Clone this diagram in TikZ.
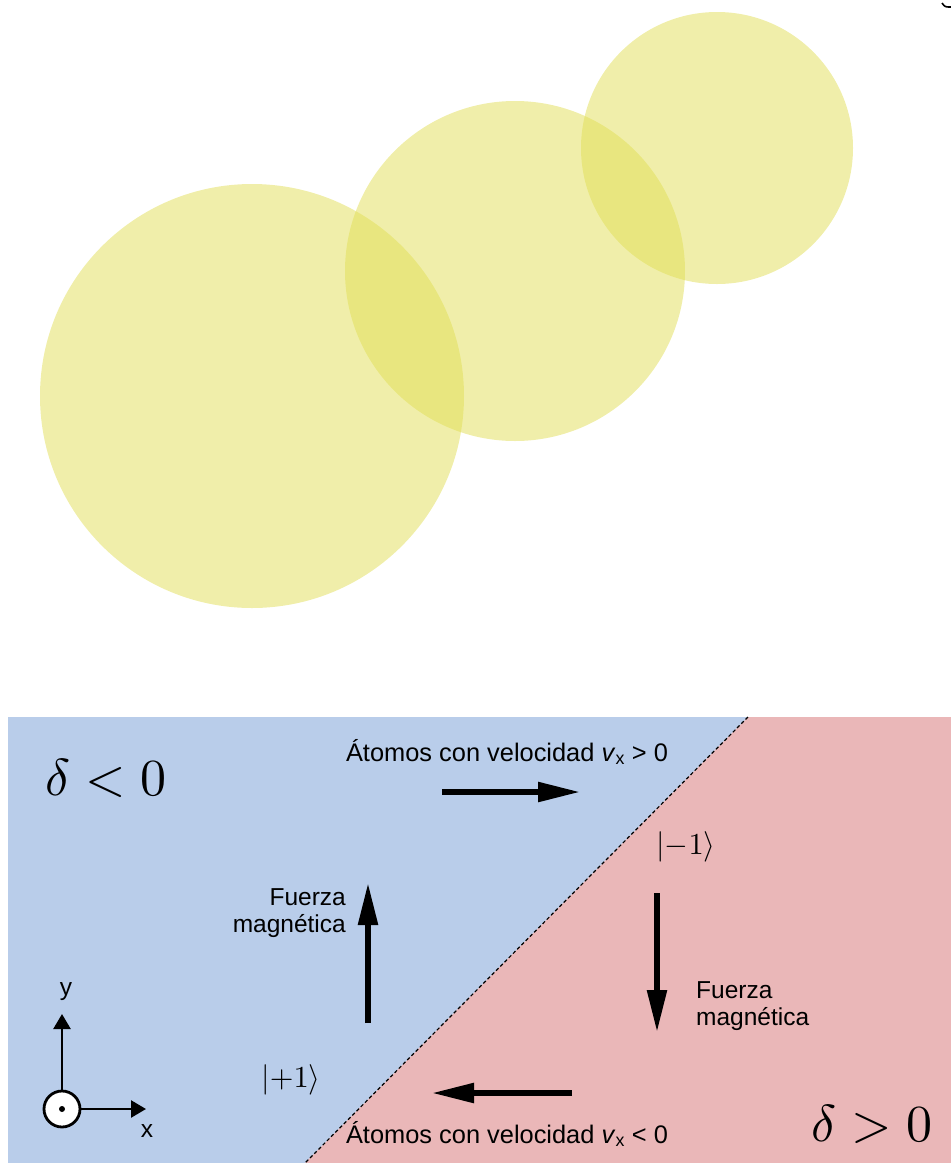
\documentclass[tikz,border=0pt]{standalone}
\usepackage{fontspec}
\newfontfamily\lab{Liberation Sans}
\usetikzlibrary{arrows.meta}
\definecolor{cyel}{RGB}{225,222,85}
\definecolor{cblue}{RGB}{185,205,234}
\definecolor{cred}{RGB}{234,183,184}
\tikzset{
  blob/.style={fill=cyel, fill opacity=0.5},
  bigarrow/.style={line width=5.5pt, -{Triangle[length=42pt,width=19pt]}},
  axarrow/.style={line width=2.5pt, -{Triangle[length=15pt,width=17pt]}},
  labtxt/.style={font=\lab\fontsize{24.5}{27}\selectfont, inner sep=0pt},
  vtxt/.style={font=\lab\fontsize{25.4}{28}\selectfont, inner sep=0pt, anchor=base},
  bigmath/.style={font=\normalsize, scale=5.2, inner sep=0pt, anchor=base},
  ket/.style={font=\normalsize, scale=3.05, inner sep=0pt},
}
\begin{document}
\begin{tikzpicture}[x=1pt,y=-1pt]
\useasboundingbox (0,0) rectangle (951,1163);
% circles
\fill[blob] (252,396) circle (212);
\fill[blob] (515,271) circle (170);
\fill[blob] (717,148) circle (136);
% small arc top right
\draw[line width=1.6pt] (942,3) .. controls (945,7) .. (951,7);
% panel
\fill[cblue] (8,717) rectangle (951,1163);
\fill[cred] (748,717) -- (951,717) -- (951,1163) -- (305,1163) -- cycle;
\coordinate (dtop) at (748,717);
\coordinate (dbot) at (305,1163);
\draw[line width=1.2pt, dash pattern=on 3.5pt off 2.5pt] (dtop) -- (dbot);
% labels
\node[bigmath] (dneg) at (106,795) {$\delta<0$};
\node[bigmath] (dpos) at (872,1141) {$\delta>0$};
\node[vtxt] (vpos) at (507,761) {Átomos con velocidad \textit{v}\textsubscript{x} > 0};
\node[vtxt] (vneg) at (507,1143) {Átomos con velocidad \textit{v}\textsubscript{x} < 0};
\node[ket] (km) at (686,847) {$\left|-1\right\rangle$};
\node[ket] (kp) at (291,1080) {$\left|+1\right\rangle$};
\node[labtxt, align=right, anchor=north east] (fl) at (346,888) {Fuerza\\magnética};
\node[labtxt, align=left, anchor=north west] (fr) at (696,981) {Fuerza\\magnética};
% big arrows
\coordinate (r1) at (442,792); \coordinate (r2) at (580,792);
\coordinate (l1) at (572,1093); \coordinate (l2) at (432,1093);
\coordinate (u1) at (368,1023); \coordinate (u2) at (368,883);
\coordinate (d1) at (657,893); \coordinate (d2) at (657,1032);
\draw[bigarrow] (r1) -- (r2);
\draw[bigarrow] (l1) -- (l2);
\draw[bigarrow] (u1) -- (u2);
\draw[bigarrow] (d1) -- (d2);
% axes
\node[circle, draw, line width=2.8pt, fill=white, minimum size=36pt, inner sep=0pt] (o) at (62,1109) {};
\fill (o.center) circle (3);
\coordinate (ytip) at (62,1014);
\coordinate (xtip) at (146,1109);
\draw[axarrow] (o.north) -- (ytip);
\draw[axarrow] (o.east) -- (xtip);
\node[labtxt] (ylab) at (66,992) {y};
\node[labtxt] (xlab) at (147,1131) {x};
\end{tikzpicture}
\end{document}
